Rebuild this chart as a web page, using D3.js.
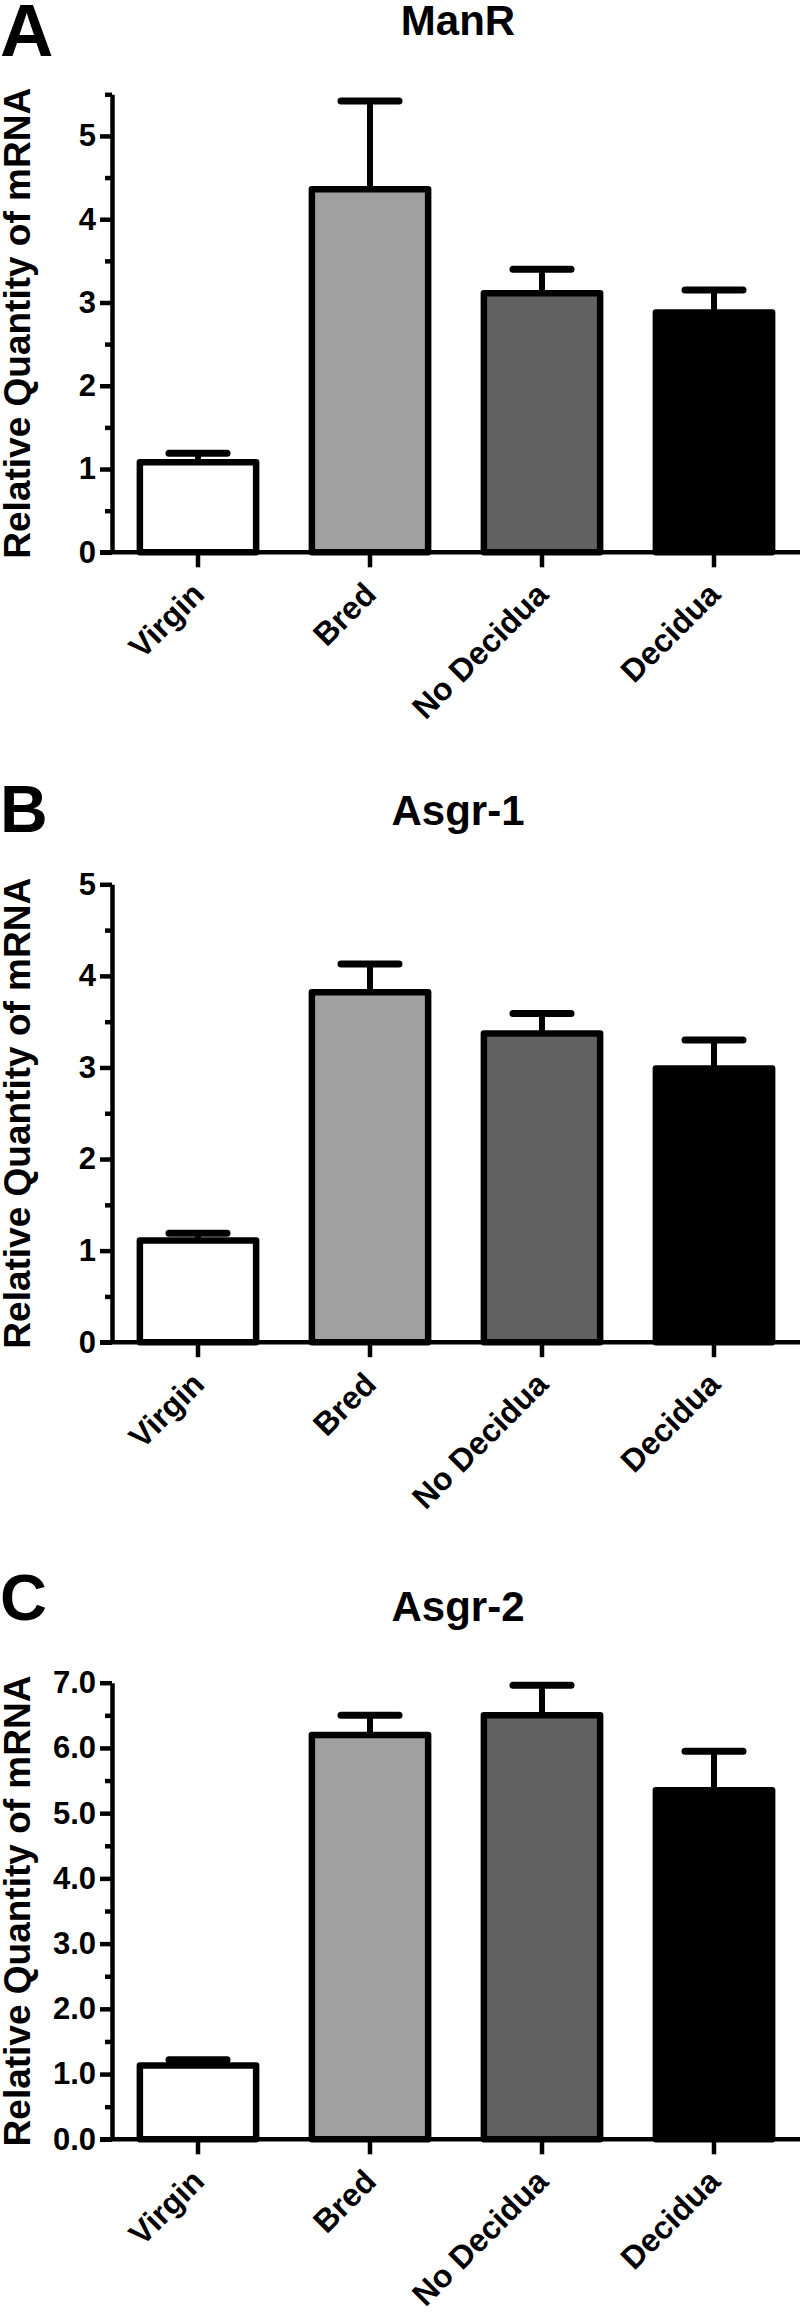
<!DOCTYPE html>
<html lang="en">
<head>
<meta charset="UTF-8">
<title>ManR / Asgr-1 / Asgr-2 mRNA</title>
<script src="https://d3js.org/d3.v7.min.js"></script>
<style>
  body { margin: 0; background: #fff; }
  svg { display: block; font-family: "Liberation Sans", Arial, sans-serif; font-weight: bold; }
</style>
</head>
<body>
<svg id="chart" width="800" height="2314"></svg>
<script>
// ---- data ----
const categories = ["Virgin", "Bred", "No Decidua", "Decidua"];

const manrMean = [1.08, 4.36, 3.11, 2.88];
const manrSem  = [0.11, 1.06, 0.29, 0.27];

const asgr1Mean = [1.11, 3.82, 3.37, 2.99];
const asgr1Sem  = [0.08, 0.31, 0.22, 0.31];

const asgr2Mean = [1.13, 6.20, 6.50, 5.35];
const asgr2Sem  = [0.09, 0.30, 0.46, 0.60];

const panelLetters = ["A", "B", "C"];
const panelTitles = ["ManR", "Asgr-1", "Asgr-2"];
const yMax = [5.5, 5, 7];
const tickFormats = ["d", "d", ".1f"];

// ---- styling / layout ----
const barFills = ["#ffffff", "#a0a0a0", "#616161", "#000000"];
const yLabel = "Relative Quantity of mRNA";
const plotLeft = 112, plotRight = 800;
const layout = [
  { top: 94.3,  zero: 552.3,  letterY: 56,   letterSize: 74, titleY: 35 },
  { top: 884.3, zero: 1342.2, letterY: 832,  letterSize: 66, titleY: 825 },
  { top: 1682.7, zero: 2139.3, letterY: 1620, letterSize: 65, titleY: 1621 }
];

const svg = d3.select("#chart");

var x = d3.scaleBand()
  .domain(categories)
  .range([plotLeft, plotRight])
  .paddingInner(0.324)
  .paddingOuter(0.162);

const panels = [
  { mean: manrMean, sem: manrSem },
  { mean: asgr1Mean, sem: asgr1Sem },
  { mean: asgr2Mean, sem: asgr2Sem }
];

panels.forEach((p, k) => {
  const L = layout[k];
  const g = svg.append("g");

  const y = d3.scaleLinear().domain([0, yMax[k]]).range([L.zero, L.top]);

  // panel letter + title
  g.append("text")
    .attr("x", 0).attr("y", L.letterY)
    .style("font-size", L.letterSize + "px")
    .text(panelLetters[k]);

  g.append("text")
    .attr("x", (plotLeft + plotRight) / 2 + 2)
    .attr("y", L.titleY)
    .attr("text-anchor", "middle")
    .style("font-size", "42px")
    .text(panelTitles[k]);

  // y axis label
  g.append("text")
    .attr("transform", `translate(30,${(L.top + L.zero) / 2}) rotate(-90)`)
    .attr("text-anchor", "middle")
    .style("font-size", "37px")
    .text(yLabel);

  // error bars (upper only), drawn under the bars
  const err = g.append("g").selectAll("g")
    .data(categories.map((c, i) => ({ c, m: p.mean[i], s: p.sem[i] })))
    .join("g");

  err.append("line")
    .attr("x1", d => x(d.c) + x.bandwidth() / 2)
    .attr("x2", d => x(d.c) + x.bandwidth() / 2)
    .attr("y1", d => y(d.m))
    .attr("y2", d => y(d.m + d.s))
    .attr("stroke", "#000")
    .attr("stroke-width", 6);

  err.append("line")
    .attr("x1", d => x(d.c) + x.bandwidth() / 2 - 29)
    .attr("x2", d => x(d.c) + x.bandwidth() / 2 + 29)
    .attr("y1", d => y(d.m + d.s))
    .attr("y2", d => y(d.m + d.s))
    .attr("stroke", "#000")
    .attr("stroke-width", 7)
    .attr("stroke-linecap", "round");

  // bars
  g.append("g").selectAll("rect")
    .data(categories.map((c, i) => ({ c, m: p.mean[i], fill: barFills[i] })))
    .join("rect")
    .attr("x", d => x(d.c))
    .attr("width", x.bandwidth())
    .attr("y", d => y(d.m))
    .attr("height", d => y(0) - y(d.m))
    .attr("fill", d => d.fill)
    .attr("stroke", "#000")
    .attr("stroke-width", 6.5)
    .attr("stroke-linejoin", "round");

  // y axis: major ticks with labels, minor ticks at the halves
  const major = d3.range(0, yMax[k] + 1e-9, 1);
  const minor = d3.range(0.5, yMax[k] + 1e-9, 1);

  const yAxis = g.append("g")
    .attr("transform", `translate(${plotLeft},0)`)
    .call(d3.axisLeft(y).tickValues(major).tickFormat(d3.format(tickFormats[k]))
      .tickSize(12).tickSizeOuter(0).tickPadding(4));
  yAxis.select(".domain").attr("stroke-width", 4.5);
  yAxis.selectAll(".tick line").attr("stroke-width", 4.5);
  yAxis.selectAll(".tick text")
    .style("font-size", "31px")
    .style("font-family", "'Liberation Sans', Arial, sans-serif")
    .style("font-weight", "bold")
    .attr("fill", "#000");

  const yMinor = g.append("g")
    .attr("transform", `translate(${plotLeft},0)`)
    .call(d3.axisLeft(y).tickValues(minor).tickFormat("").tickSize(7).tickSizeOuter(0));
  yMinor.select(".domain").remove();
  yMinor.selectAll(".tick line").attr("stroke-width", 4.5);

  // x axis baseline + ticks + rotated labels
  g.append("line")
    .attr("x1", plotLeft - 12).attr("x2", plotRight)
    .attr("y1", y(0)).attr("y2", y(0))
    .attr("stroke", "#000").attr("stroke-width", 4.5);

  const xAxis = g.append("g")
    .attr("transform", `translate(0,${y(0)})`)
    .call(d3.axisBottom(x).tickSize(15).tickSizeOuter(0));
  xAxis.select(".domain").remove();
  xAxis.selectAll(".tick line").attr("stroke-width", 4.5);
  xAxis.selectAll(".tick text")
    .attr("text-anchor", "end")
    .attr("x", 0).attr("y", 0).attr("dy", null)
    .attr("transform", "translate(8,44) rotate(-45)")
    .style("font-size", "32px")
    .style("font-family", "'Liberation Sans', Arial, sans-serif")
    .style("font-weight", "bold")
    .attr("fill", "#000");
});
</script>
</body>
</html>
